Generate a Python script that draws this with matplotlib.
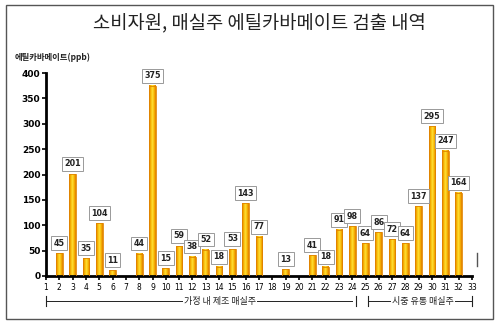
import matplotlib
matplotlib.use("Agg")
import matplotlib.pyplot as plt
import numpy as np
from matplotlib.patches import Rectangle
from matplotlib.colors import LinearSegmentedColormap

plt.rcParams['font.family'] = ['Noto Sans CJK KR', 'DejaVu Sans']

title = "소비자원, 매실주 에틸카바메이트 검출 내역"
ylabel = "에틸카바메이트(ppb)"
samples = [2, 3, 4, 5, 6, 8, 9, 10, 11, 12, 13, 14, 15, 16, 17, 19,
           21, 22, 23, 24, 25, 26, 27, 28, 29, 30, 31, 32]
values = [45, 201, 35, 104, 11, 44, 375, 15, 59, 38, 52, 18, 53, 143, 77, 13,
          41, 18, 91, 98, 64, 86, 72, 64, 137, 295, 247, 164]
xticks = list(range(1, 34))
yticks = [0, 50, 100, 150, 200, 250, 300, 350, 400]
group1 = "가정 내 제조 매실주"
group2 = "시중 유통 매실주"

fig = plt.figure(figsize=(5, 3.25), dpi=100)
# outer frame
fig.patches.append(Rectangle((0.012, 0.02), 0.974, 0.965, transform=fig.transFigure,
                             fill=False, ec='#555555', lw=1.0))
ax = fig.add_axes([0.092, 0.151, 0.852, 0.624])

cmap = LinearSegmentedColormap.from_list('g', ['#e07a00', '#f7b500', '#ffe13a', '#f7b500', '#e07a00'])
grad = np.linspace(0, 1, 64).reshape(1, -1)
w = 0.5
for x, v in zip(samples, values):
    ax.imshow(grad, extent=(x - w / 2, x + w / 2, 0, v), aspect='auto', cmap=cmap,
              zorder=2, interpolation='bilinear')
    ax.add_patch(Rectangle((x - w / 2, 0), w, v, fill=False, ec='#e08400', lw=0.6, zorder=3))
    ax.text(x, v + 11, str(v), ha='center', va='bottom', fontsize=5.8, fontweight='bold',
            color='#222222', family='DejaVu Sans', zorder=5,
            bbox=dict(boxstyle='square,pad=0.3', fc='white', ec='#999999', lw=0.7))

ax.set_xlim(1, 33)
ax.set_ylim(0, 400)
ax.set_xticks(xticks)
ax.set_xticklabels([str(t) for t in xticks], fontsize=5.5, family='DejaVu Sans')
ax.set_yticks(yticks)
ax.set_yticklabels([str(t) for t in yticks], fontsize=6.5, fontweight='bold', family='DejaVu Sans')
ax.tick_params(axis='x', length=3, width=1.2, pad=2)
ax.tick_params(axis='y', length=3, width=1.2, pad=1)
for s in ['top', 'right']:
    ax.spines[s].set_visible(False)
ax.spines['left'].set_linewidth(2)
ax.spines['bottom'].set_linewidth(2)

fig.text(0.518, 0.928, title, ha='center', va='center', fontsize=13.5, color='#222222')
fig.text(0.03, 0.822, ylabel, ha='left', va='center', fontsize=6, fontweight='bold', color='#222222')

# group brackets
yb = -0.125
tr = ax.get_xaxis_transform()
lc = '#222222'
ax.plot([1, 24], [yb, yb], transform=tr, color=lc, lw=0.7, clip_on=False)
ax.plot([1, 1], [yb - 0.025, yb + 0.025], transform=tr, color=lc, lw=0.8, clip_on=False)
ax.plot([24.3, 24.3], [yb - 0.025, yb + 0.025], transform=tr, color=lc, lw=0.8, clip_on=False)
ax.plot([25.2, 33], [yb, yb], transform=tr, color=lc, lw=0.7, clip_on=False)
ax.plot([25.2, 25.2], [yb - 0.025, yb + 0.025], transform=tr, color=lc, lw=0.8, clip_on=False)
ax.plot([33, 33], [yb - 0.025, yb + 0.025], transform=tr, color=lc, lw=0.8, clip_on=False)
ax.text(14.1, yb, group1, transform=tr, ha='center', va='center', fontsize=6.5,
        color='#222222', bbox=dict(boxstyle='square,pad=0.1', fc='white', ec='none'))
ax.text(29.3, yb, group2, transform=tr, ha='center', va='center', fontsize=6.5,
        color='#222222', bbox=dict(boxstyle='square,pad=0.1', fc='white', ec='none'))
# small marker at right
ax.plot([33.4, 33.4], [20, 45], color='#555555', lw=1, clip_on=False)

fig.savefig('out.png', dpi=100)
